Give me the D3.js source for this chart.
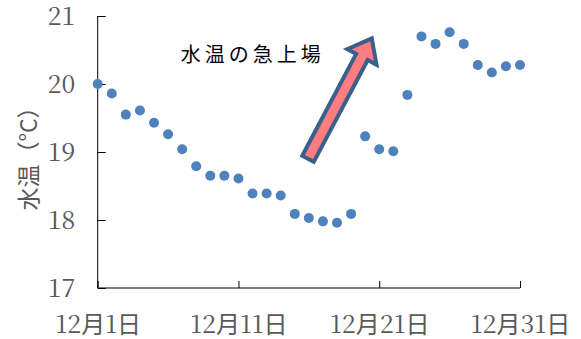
<!DOCTYPE html>
<html>
<head>
<meta charset="utf-8">
<script src="https://cdn.jsdelivr.net/npm/d3@7"></script>
<style>
  html, body { margin: 0; padding: 0; background: #ffffff; }
  svg { display: block; }
</style>
</head>
<body>
<svg id="chart" width="581" height="339"></svg>
<script>
// Daily water temperature for December (day of month, °C)
const days = [1, 2, 3, 4, 5, 6, 7, 8, 9, 10, 11, 12, 13, 14, 15, 16,
              17, 18, 19, 20, 21, 22, 23, 24, 25, 26, 27, 28, 29, 30, 31];
const temps = [20.00, 19.86, 19.55, 19.61, 19.43, 19.26, 19.04, 18.79,
               18.65, 18.65, 18.61, 18.39, 18.39, 18.36, 18.09, 18.03,
               17.98, 17.96, 18.09, 19.23, 19.04, 19.01, 19.84, 20.70,
               20.59, 20.76, 20.59, 20.28, 20.17, 20.26, 20.28];

const xTickDays = [1, 11, 21, 31];
const xTickLabels = ["12月1日", "12月11日", "12月21日", "12月31日"];
const yTicks = [17, 18, 19, 20, 21];
const yTitle = "水温（°C）";

// Annotation: arrow marking the sharp rise, and its caption
const noteText = "水温の急上場";
const noteAnchor = { day: 6.9, temp: 20.33 };
const arrowTail = { day: 15.94, temp: 18.90 };
const arrowTip = { day: 20.47, temp: 20.67 };

const svg = d3.select("#chart");
const margin = { left: 98, right: 61, top: 16, bottom: 51 };
const W = 581, H = 339;

const x = d3.scaleLinear().domain([1, 31]).range([margin.left - 0.3, W - margin.right]);
const y = d3.scaleLinear().domain([17, 21]).range([H - margin.bottom, margin.top]);

const axisColor = "#000000";
const labelColor = "#595959";
const serifFont = "'Noto Serif CJK JP', serif";
const cjkFont = "'Noto Sans CJK JP', sans-serif";

// Y axis
const yAxis = d3.axisLeft(y).tickValues(yTicks).tickSize(-8).tickPadding(22.5).tickFormat(d3.format("d"));
const gy = svg.append("g").attr("transform", `translate(${x(1)},0)`).call(yAxis);
gy.attr("font-family", null).attr("font-size", null);
gy.select(".domain").attr("stroke", axisColor).attr("d", `M0,${y(21)}V${y(17)}`);
gy.selectAll(".tick line").attr("stroke", axisColor);
gy.selectAll(".tick text")
  .attr("fill", labelColor)
  .style("font-family", serifFont)
  .style("font-size", "25px")
  .attr("dy", "0.33em");

// X axis: serif digits, gothic 月/日
const xAxis = d3.axisBottom(x).tickValues(xTickDays).tickSize(-7).tickFormat(() => "");
const gx = svg.append("g").attr("transform", `translate(0,${y(17)})`).call(xAxis);
gx.attr("font-family", null).attr("font-size", null);
gx.select(".domain").attr("stroke", axisColor).attr("d", `M${x(1)},0H${x(31)}`);
gx.selectAll(".tick line").attr("stroke", axisColor);
gx.selectAll(".tick text").remove();
gx.selectAll(".tick").append("text")
  .attr("y", 45)
  .attr("text-anchor", "middle")
  .attr("fill", labelColor)
  .each(function (d, i) {
    const t = d3.select(this);
    xTickLabels[i].match(/\d+|\D+/g).forEach(p => {
      const isNum = /\d/.test(p);
      t.append("tspan")
        .style("font-family", isNum ? serifFont : cjkFont)
        .style("font-size", isNum ? "25px" : "24px")
        .text(p);
    });
  });

// Y axis title
svg.append("text")
  .attr("transform", `translate(37,${(y(17) + y(21)) / 2 + 1}) rotate(-90)`)
  .attr("text-anchor", "middle")
  .attr("fill", labelColor)
  .style("font-family", cjkFont)
  .style("font-size", "23px")
  .text(yTitle);

// Data points
svg.append("g").selectAll("circle")
  .data(days.map((d, i) => ({ day: d, temp: temps[i] })))
  .join("circle")
  .attr("cx", d => x(d.day))
  .attr("cy", d => y(d.temp))
  .attr("r", 5)
  .attr("fill", "#4F81BD");

// Block arrow
const tx = x(arrowTail.day), ty = y(arrowTail.temp);
const hx = x(arrowTip.day), hy = y(arrowTip.temp);
const L = Math.hypot(hx - tx, hy - ty);
const ang = Math.atan2(hy - ty, hx - tx) * 180 / Math.PI;
const sw = 6.5, hw = 16.5, hl = 21;
const arrowPts = [[0, -sw], [L - hl, -sw], [L - hl, -hw], [L, 0], [L - hl, hw], [L - hl, sw], [0, sw]];
svg.append("path")
  .attr("transform", `translate(${tx},${ty}) rotate(${ang})`)
  .attr("d", d3.line()(arrowPts) + "Z")
  .attr("fill", "#FF7C80")
  .attr("stroke", "#3A5F8B")
  .attr("stroke-width", 4)
  .attr("stroke-linejoin", "miter");

// Caption
svg.append("text")
  .attr("x", x(noteAnchor.day))
  .attr("y", y(noteAnchor.temp))
  .attr("fill", "#000000")
  .style("font-family", cjkFont)
  .style("font-size", "20px")
  .style("letter-spacing", "4px")
  .text(noteText);
</script>
</body>
</html>
